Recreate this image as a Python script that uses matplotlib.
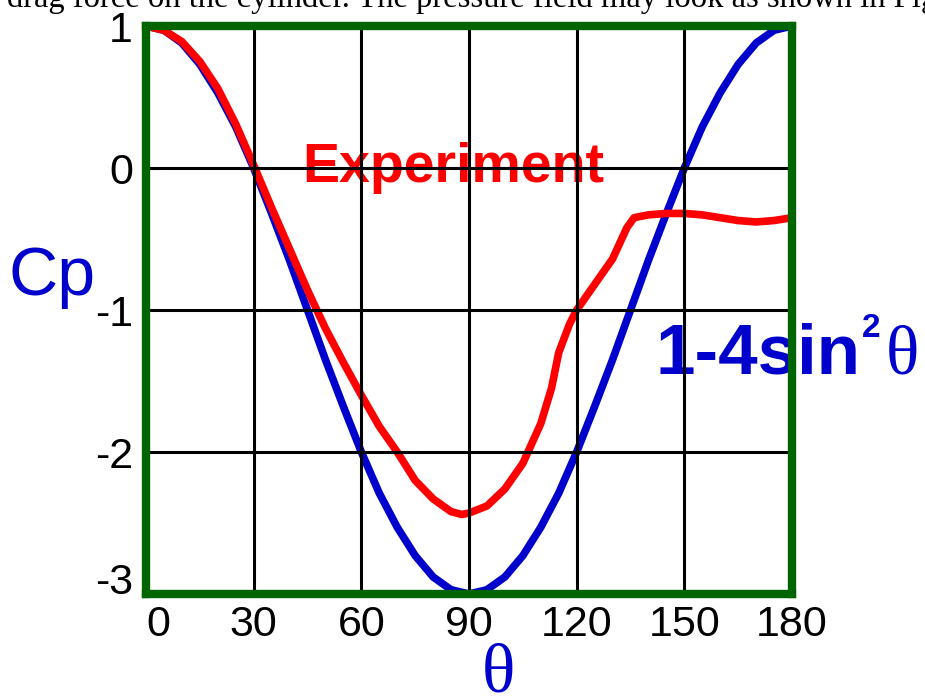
import matplotlib.pyplot as plt

# theta in degrees, pressure coefficient
theta = [0, 5, 10, 15, 20, 25, 30, 35, 40, 45, 50, 55, 60, 65, 70, 75, 80, 85, 90,
         95, 100, 105, 110, 115, 120, 125, 130, 135, 140, 145, 150, 155, 160, 165,
         170, 175, 180]
cp_theory = [1.00, 0.97, 0.88, 0.73, 0.53, 0.29, 0.00, -0.32, -0.65, -1.00, -1.35,
             -1.68, -2.00, -2.29, -2.53, -2.73, -2.88, -2.97, -3.00, -2.97, -2.88,
             -2.73, -2.53, -2.29, -2.00, -1.68, -1.35, -1.00, -0.65, -0.32, 0.00,
             0.29, 0.53, 0.73, 0.88, 0.97, 1.00]

theta_exp = [0, 5, 10, 15, 20, 25, 30, 35, 40, 45, 50, 55, 60, 65, 70, 75, 80, 85,
             88, 90, 95, 100, 105, 110, 113, 115, 118, 120, 125, 130, 134, 136, 140,
             145, 150, 155, 160, 165, 170, 175, 180]
cp_exp = [1.00, 0.97, 0.89, 0.75, 0.56, 0.31, 0.02, -0.28, -0.57, -0.86, -1.13,
          -1.37, -1.60, -1.82, -2.00, -2.20, -2.33, -2.42, -2.44, -2.43, -2.38,
          -2.26, -2.08, -1.80, -1.55, -1.30, -1.10, -1.00, -0.82, -0.64, -0.42,
          -0.35, -0.33, -0.32, -0.32, -0.33, -0.35, -0.37, -0.38, -0.37, -0.35]

xticks = [0, 30, 60, 90, 120, 150, 180]
yticks = [1, 0, -1, -2, -3]
ytick_labels = ['1', '0', '-1', '-2', '-3']

BLUE = '#0000CC'
RED = '#FF0000'
W, H = 925, 697


def fpx(x, y):
    # pixel position in the picture -> figure fraction
    return x / W, 1 - y / H


fig = plt.figure(figsize=(9.25, 6.97), dpi=100)
ax = fig.add_axes([146 / W, 1 - 594 / H, (792 - 146) / W, (594 - 26) / H])

ax.plot(theta, cp_theory, color=BLUE, lw=5.5, zorder=1, solid_joinstyle='round')
ax.plot(theta_exp, cp_exp, color=RED, lw=5.5, zorder=1, solid_joinstyle='round')

ax.set_xlim(0, 180)
ax.set_ylim(-3, 1)
ax.set_xticks(xticks)
ax.set_xticklabels([str(t) for t in xticks], fontsize=31, family='Liberation Sans')
ax.set_yticks(yticks)
ax.set_yticklabels(ytick_labels, fontsize=31, family='Liberation Sans')
ax.tick_params(axis='x', length=0, pad=8)
ax.tick_params(axis='y', length=0, pad=9.5)
ax.get_xticklabels()[0].set_ha('left')
ax.get_yticklabels()[-1].set_va('baseline')

ax.set_axisbelow(False)
ax.grid(True, color='black', lw=2.2)
for s in ax.spines.values():
    s.set_color('#006400')
    s.set_linewidth(6)
    s.set_zorder(3)

# labels that sit under the grid / frame
ax.text(*fpx(302, 182), 'Experiment', transform=fig.transFigure, color=RED,
        fontsize=40, fontweight='bold', family='Liberation Sans', va='baseline',
        zorder=0.8, clip_on=False)
ax.text(*fpx(655, 373), '1-4sin', transform=fig.transFigure, color=BLUE,
        fontsize=51, fontweight='bold', family='Liberation Sans', va='baseline',
        zorder=0.8, clip_on=False)
ax.text(*fpx(862, 337), '2', transform=fig.transFigure, color=BLUE,
        fontsize=24, fontweight='bold', family='Liberation Sans', va='baseline',
        zorder=0.8, clip_on=False)
ax.text(*fpx(886, 373), 'θ', transform=fig.transFigure, color=BLUE,
        fontsize=50, family='Liberation Serif', va='baseline',
        zorder=0.8, clip_on=False)

fig.text(*fpx(8, 295), 'Cp', color=BLUE, fontsize=49, family='Liberation Sans',
         va='baseline')
fig.text(*fpx(498, 692), 'θ', color=BLUE, fontsize=50, family='Liberation Serif',
         ha='center', va='baseline')

# cut-off line of text above the chart
fig.text(*fpx(7, 7), 'drag force on the cylinder. The pressure field may look as shown in Fig',
         color='black', fontsize=23.5, family='Liberation Serif', va='baseline')

fig.savefig('out.png', dpi=100)
